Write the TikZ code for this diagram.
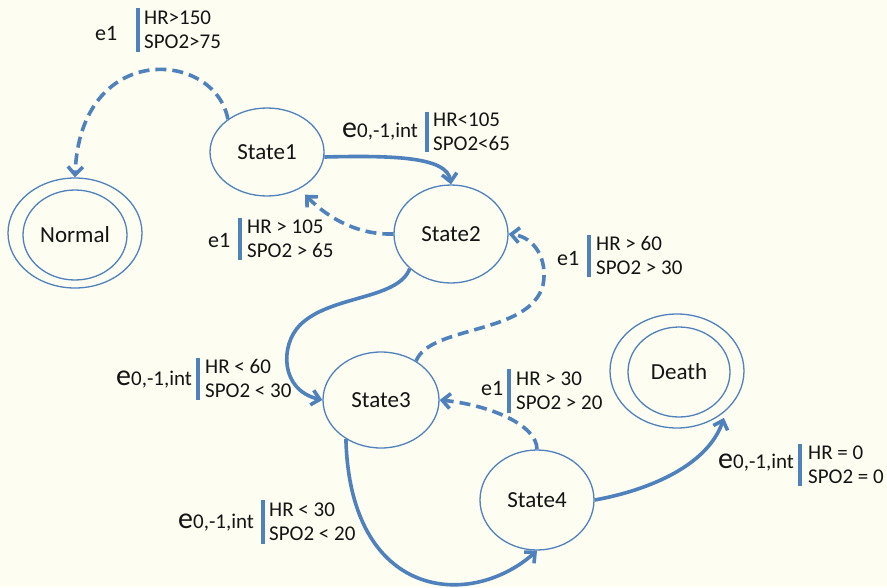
\documentclass[tikz,border=0pt]{standalone}
\usepackage{fontspec}
\setmainfont{Carlito}
\usetikzlibrary{arrows.meta,shapes.geometric}
\definecolor{bgcream}{RGB}{253,253,242}
\definecolor{lineblue}{RGB}{79,129,189}
\definecolor{txt}{RGB}{20,20,20}
\newcommand\evint{{\fontsize{30}{30}\selectfont e}{\fontsize{21}{24}\selectfont 0,-1,int}}
\begin{document}
\begin{tikzpicture}[x=1pt,y=-1pt,
  st/.style={ellipse, draw=lineblue, line width=1.3pt, inner sep=0pt, text=txt, font=\fontsize{23}{26}\selectfont},
  cond/.style={anchor=west, align=left, inner sep=0pt, text=txt, font=\fontsize{21}{24}\selectfont},
  ev/.style={anchor=west, inner sep=0pt, text=txt, font=\fontsize{22}{24}\selectfont},
  trans/.style={draw=lineblue, line width=3.6pt, -{Straight Barb[length=8pt,width=15pt]}},
  dtrans/.style={trans, dash pattern=on 11pt off 6pt},
  bar/.style={draw=lineblue, line width=4pt}
]
\fill[bgcream] (0,0) rectangle (887,587);
\useasboundingbox (0,0) rectangle (887,587);

% states
\node[st, minimum width=114pt, minimum height=88pt] (s1) at (267,152) {State1};
\node[st, minimum width=114pt, minimum height=98pt] (s2) at (451,234) {State2};
\node[st, minimum width=116pt, minimum height=96pt] (s3) at (381,400) {State3};
\node[st, minimum width=114pt, minimum height=100pt] (s4) at (537,500) {State4};
\node[st, minimum width=134pt, minimum height=110pt] (normal) at (75,233) {};
\node[st, minimum width=104pt, minimum height=90pt] (normalin) at (75,235) {Normal};
\node[st, minimum width=134pt, minimum height=114pt] (death) at (677,371) {};
\node[st, minimum width=102pt, minimum height=90pt] (deathin) at (679,372) {Death};

% transitions
\draw[dtrans] (s1.140) .. controls (215,50) and (80,40) .. (normal.north);
\draw[trans] (s1.355) .. controls (400,155) and (447,158) .. (s2.north);
\draw[dtrans] (s2.west) .. controls (360,235) and (330,220) .. ([shift={(5,6)}]s1.-48);
\draw[trans] (s2.220) .. controls (398,300) and (330,295) .. (300,325) .. controls (280,345) and (280,390) .. (s3.west);
\draw[dtrans] (s3.48) .. controls (430,325) and (530,335) .. (543,285) .. controls (548,260) and (535,237) .. (s2.east);
\draw[dtrans] (s4.north) .. controls (537,425) and (490,405) .. (s3.east);
\draw[trans] (s3.228) .. controls (350,600) and (470,610) .. (s4.south);
\draw[trans] (s4.east) .. controls (650,490) and (708,465) .. ([shift={(3,3)}]death.-45);

% labels
\node[ev] (e1) at (95,33) {e1};
\node[cond] (c1) at (144,30) {HR>150\\SPO2>75};
\draw[bar] ([xshift=-6pt]c1.west) ++(0,-22) -- ++(0,44);

\node[ev] (e2) at (342,132) {\evint};
\node[cond] (c2) at (433,131.5) {HR<105\\SPO2<65};
\draw[bar] ([xshift=-6pt]c2.west) ++(0,-20) -- ++(0,40);

\node[ev] (e3) at (208,240) {e1};
\node[cond] (c3) at (247,238.5) {HR > 105\\SPO2 > 65};
\draw[bar] ([xshift=-7pt]c3.west) ++(0,-21) -- ++(0,42);

\node[ev] (e4) at (557,258) {e1};
\node[cond] (c4) at (596,255.5) {HR > 60\\SPO2 > 30};
\draw[bar] ([xshift=-7pt]c4.west) ++(0,-21) -- ++(0,42);

\node[ev] (e5) at (116,380) {\evint};
\node[cond] (c5) at (205,378.5) {HR < 60\\SPO2 < 30};
\draw[bar] ([xshift=-7pt]c5.west) ++(0,-21) -- ++(0,42);

\node[ev] (e6) at (481,388) {e1};
\node[cond] (c6) at (516,390.5) {HR > 30\\SPO2 > 20};
\draw[bar] ([xshift=-7pt]c6.west) ++(0,-22) -- ++(0,44);

\node[ev] (e7) at (718,463) {\evint};
\node[cond] (c7) at (808,465) {HR = 0\\SPO2 = 0};
\draw[bar] ([xshift=-8pt]c7.west) ++(0,-21) -- ++(0,42);

\node[ev] (e8) at (178,523) {\evint};
\node[cond] (c8) at (269,521.5) {HR < 30\\SPO2 < 20};
\draw[bar] ([xshift=-6pt]c8.west) ++(0,-22) -- ++(0,44);
\end{tikzpicture}
\end{document}
